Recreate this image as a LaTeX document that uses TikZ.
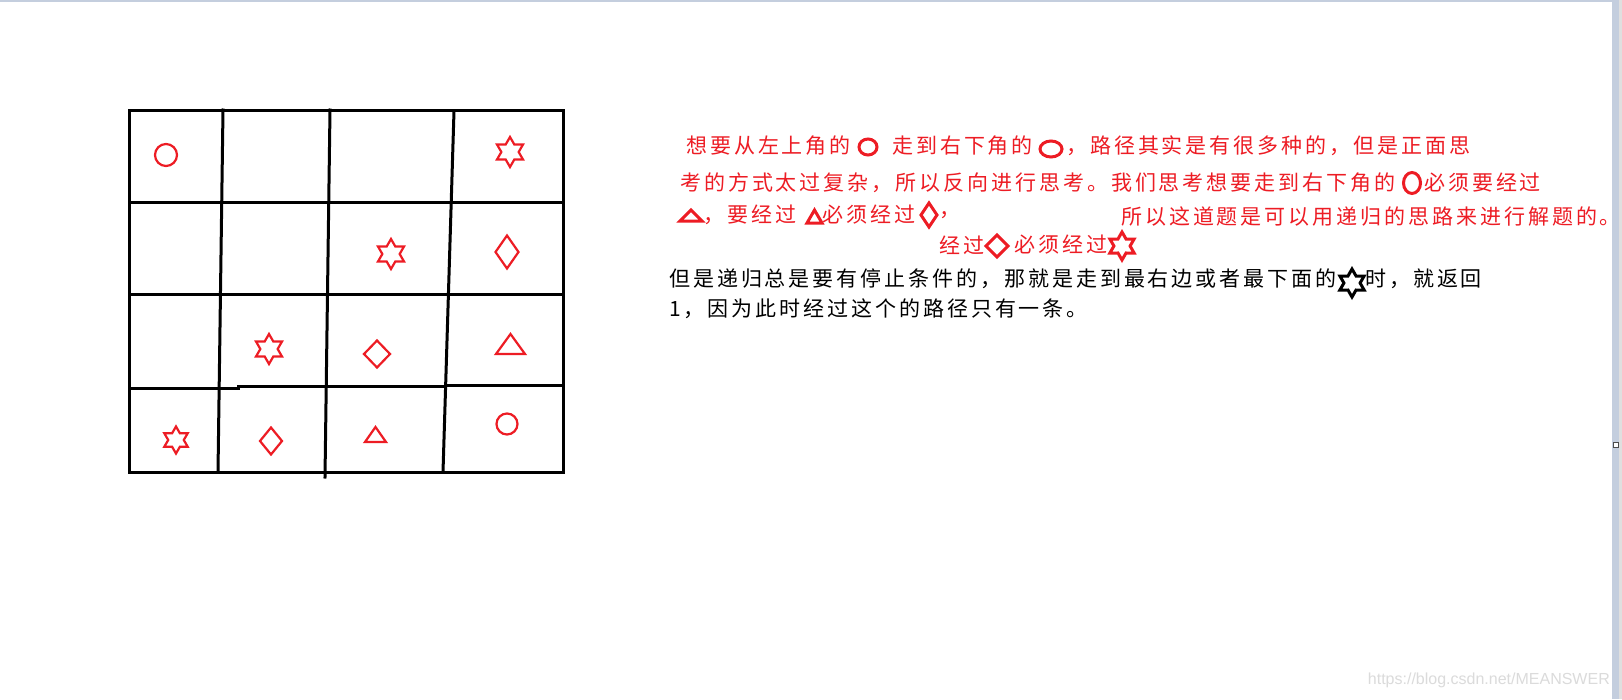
\documentclass[tikz,border=0pt]{standalone}
\usepackage{fontspec}
\newfontfamily\cjk[LetterSpace=14]{Noto Sans CJK SC}
\newfontfamily\wmark{Liberation Sans}
\definecolor{paintred}{RGB}{237,28,36}
\definecolor{barblue}{RGB}{196,206,222}
\begin{document}
\begin{tikzpicture}[x=1pt, y=-1pt, line join=miter,
	gridline/.style={line width=3pt, line cap=rect},
	redmark/.style={draw=paintred, line width=2.2pt},
	textmark/.style={draw=paintred, line width=3pt},
	blkmark/.style={draw=black, line width=3pt},
	redtxt/.style={anchor=west, inner sep=0pt, text=paintred, font=\cjk\fontsize{21}{21}\selectfont},
	blktxt/.style={redtxt, text=black},
	hexa/.pic={\draw[pic actions] (90:1) \foreach \a in {90,150,...,390}{--({\a+30}:0.577)--({\a+60}:1)}--cycle;}]
	\fill[white] (0,0) rectangle (1622,699);
	\useasboundingbox (0,0) rectangle (1622,699);
	\fill[barblue] (0,0) rectangle (1612,1.5);
	\fill[barblue] (1612,0) rectangle (1619,699);
	\fill[gray!25] (1619,0) rectangle (1622,699);
	\draw[black!70, fill=white, line width=0.8pt] (1613,442) rectangle (1618,447);
	% grid
	\draw[gridline] (129,110) rectangle (563,472);
	\draw[gridline] (129,202)--(563,202) (129,294)--(563,294);
	\draw[gridline] (129,388)--(238,388)--(238,386)--(445,386)--(445,385)--(563,385);
	\draw[gridline] (223,110)--(218,472) (330,110)--(325,477) (454,111)--(443,472);
	% shapes in the grid
	\draw[redmark] (166,155) circle[radius=11pt];
	\draw[redmark] (507,424) circle[radius=10.5pt];
	\foreach \x/\y/\s in {510/152/15, 391/254/15, 269/349/15, 176/440/13.5}
		\pic[redmark, scale=\s] at (\x,\y) {hexa};
	\foreach \x/\y/\w/\h in {507/252/11.5/16.5, 377/354/13/13.5, 271/441/11/13.5}
		\draw[redmark] (\x,\y) ++(0,-\h) -- ++(\w,\h) -- ++(-\w,\h) -- ++(-\w,-\h) -- cycle;
	\draw[redmark] (496,354)--(525,354)--(510.5,334)--cycle;
	\draw[redmark] (365,442)--(386,442)--(375.5,427)--cycle;
	% text
	\node[redtxt] (r1a) at (686,146) {想要从左上角的};
	\node[redtxt] (r1b) at (892,146) {走到右下角的};
	\node[redtxt] (r1c) at (1066,146) {，路径其实是有很多种的，但是正面思};
	\node[redtxt] (r2a) at (680,183) {考的方式太过复杂，所以反向进行思考。我们思考想要走到右下角的};
	\node[redtxt] (r2b) at (1424,183) {必须要经过};
	\node[redtxt] (r3a) at (703,215) {，要经过};
	\node[redtxt] (r3b) at (822,215) {必须经过};
	\node[redtxt] (r3c) at (939,215) {，};
	\node[redtxt] (r3d) at (1121,217) {所以这道题是可以用递归的思路来进行解题的。};
	\node[redtxt] (r4a) at (939,245) {经过};
	\node[redtxt] (r4b) at (1014,245) {必须经过};
	\node[blktxt] (k1a) at (669,279) {但是递归总是要有停止条件的，那就是走到最右边或者最下面的};
	\node[blktxt] (k1b) at (1365,279) {时，就返回};
	\node[blktxt] (k2) at (669,309) {1，因为此时经过这个的路径只有一条。};
	\node[anchor=east, inner sep=0pt, text=gray!28, font=\wmark\fontsize{16}{16}\selectfont] (wm) at (1610,680) {https://blog.csdn.net/MEANSWER};
	% marks inside the text
	\draw[textmark] (868,147) circle[x radius=9pt, y radius=8pt];
	\draw[textmark] (1051,149) circle[x radius=11pt, y radius=8pt];
	\draw[textmark] (1412,183) circle[x radius=8.5pt, y radius=10.5pt];
	\draw[textmark] (680,221)--(702,221)--(691,210)--cycle;
	\draw[textmark] (807,223)--(822,223)--(814.5,210)--cycle;
	\foreach \x/\y/\w/\h in {929/215/8/12, 997/246/11/11}
		\draw[textmark] (\x,\y) ++(0,-\h) -- ++(\w,\h) -- ++(-\w,\h) -- ++(-\w,-\h) -- cycle;
	\pic[textmark, scale=14] at (1122,246) {hexa};
	\pic[blkmark, scale=14] at (1352,283) {hexa};
\end{tikzpicture}
\end{document}
